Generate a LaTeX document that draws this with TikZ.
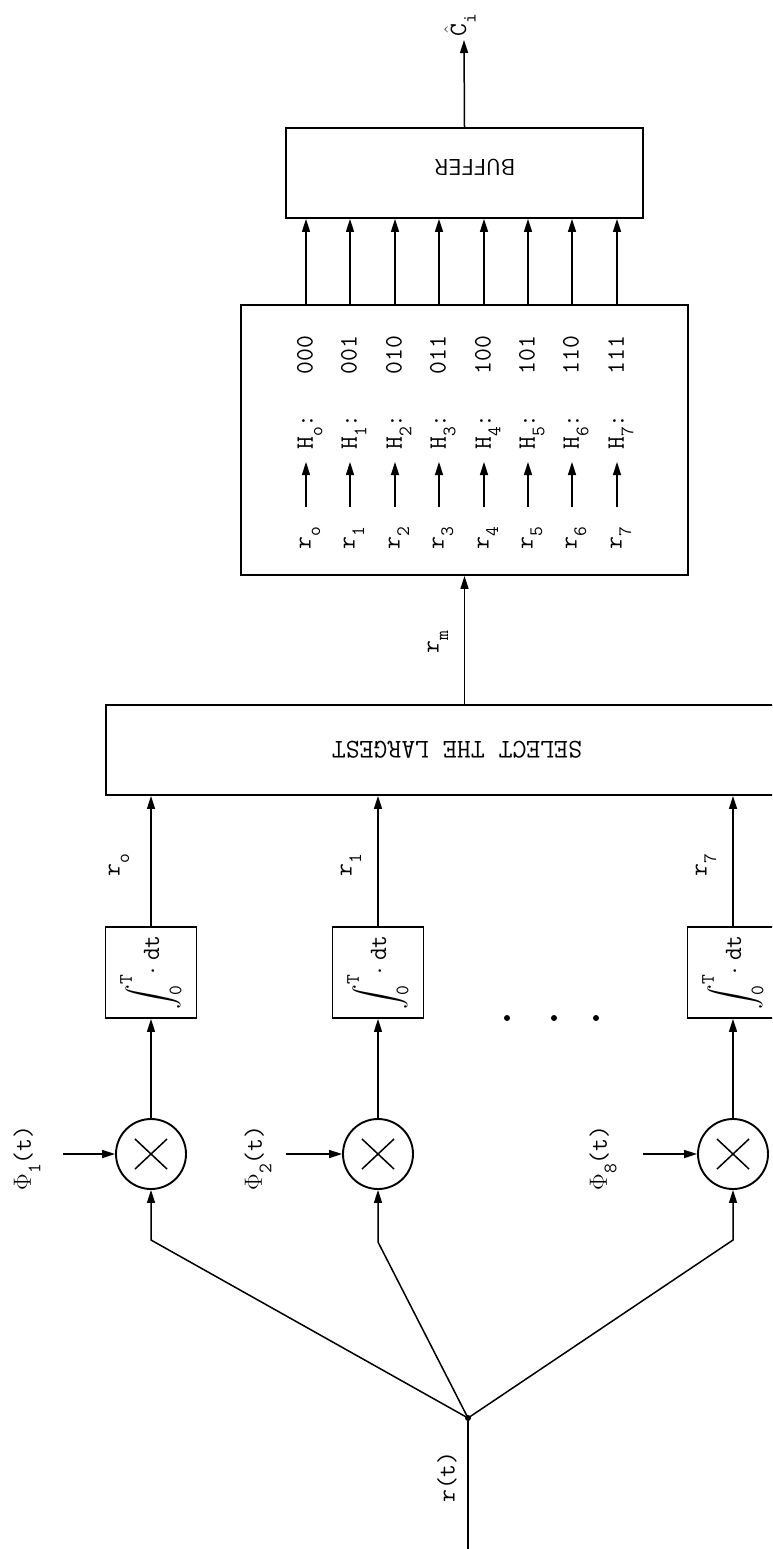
\documentclass[tikz,border=0pt]{standalone}
\usepackage{graphicx}
\usepackage{exscale}
\usetikzlibrary{arrows.meta}
\newcommand\tsub[1]{\raisebox{-0.38em}{\fontsize{19}{19}\selectfont\ttfamily #1}}
\newcommand\intgtext{\rotatebox{90}{$\displaystyle\int_{\mbox{\fontsize{19}{19}\selectfont\ttfamily 0}}^{\mbox{\fontsize{19}{19}\selectfont\ttfamily T}}\!\cdot\;\mathtt{dt}$}}
\begin{document}
\begin{tikzpicture}[x=1pt,y=-1pt,
  ln/.style={line width=1.5pt},
  arr/.style={line width=1.5pt,-{Triangle[length=13pt,width=8pt]}},
  box/.style={draw,line width=1.9pt,inner sep=0pt},
  mult/.style={draw,circle,line width=1.9pt,minimum size=70pt,inner sep=0pt},
  lbl/.style={font=\fontsize{25}{30}\selectfont\ttfamily,inner sep=0pt,rotate=90},
  intg/.style={box,minimum size=91pt,font=\fontsize{24}{28}\selectfont\ttfamily},
  ]
\clip (0,0) rectangle (772,1549);
\fill[white] (0,0) rectangle (772,1549);

% ---------- buffer ----------
\node[box,minimum width=357pt,minimum height=90pt] (buf) at (464.5,173) {};
\node[font=\fontsize{23}{26}\selectfont\sffamily,rotate=180,inner sep=0pt] (buft) at (475,167) {BUFFER};
\coordinate (chat) at (464,40);
\draw[arr] (buf.north) -- (chat);
\node[lbl] (chatl) at (460,25) {$\hat{\mathtt{C}}$\tsub{i}};

% ---------- decoder box ----------
\node[box,minimum width=447pt,minimum height=270pt] (dec) at (464.5,440) {};
\foreach \i/\code/\sub in {0/000/o,1/001/1,2/010/2,3/011/3,4/100/4,5/101/5,6/110/6,7/111/7} {
  \pgfmathsetmacro\cx{round(306+44.4*\i)}
  \coordinate (c\i) at (\cx,440);
  \node[lbl] (r\i) at (\cx+4,538) {r\tsub{\sub}};
  \coordinate (a\i) at (\cx,507);
  \coordinate (b\i) at (\cx,462);
  \draw[arr] (a\i) -- (b\i);
  \node[lbl] (h\i) at (\cx+4,432) {H\tsub{\sub}:};
  \node[lbl] (k\i) at (\cx-1,355) {\code};
  \draw[arr] (c\i |- dec.north) -- (c\i |- buf.south);
}

% ---------- select the largest ----------
\node[box,minimum width=702pt,minimum height=90pt] (sel) at (457,750) {};
\node[font=\fontsize{27}{30}\selectfont\ttfamily,rotate=180,inner sep=0pt] (selt) at (457,750) {SELECT THE LARGEST};
\draw[arr] (dec.south |- sel.north) -- (dec.south);
\node[lbl] (rm) at (438,642) {r\tsub{m}};

% ---------- integrators ----------
\node[intg] (int1) at (151,972.5) {\intgtext};
\node[intg] (int2) at (378,972.5) {\intgtext};
\node[intg] (int3) at (733,972.5) {\intgtext};
\draw[arr] (int1.north) -- (int1.north |- sel.south);
\draw[arr] (int2.north) -- (int2.north |- sel.south);
\draw[arr] (int3.north) -- (int3.north |- sel.south);
\node[lbl] (ro) at (119,865) {r\tsub{o}};
\node[lbl] (r1l) at (351,865) {r\tsub{1}};
\node[lbl] (r7l) at (706,865) {r\tsub{7}};

% dots
\fill (507,1018) circle (3);
\fill (554,1018) circle (3);
\fill (596,1018) circle (3);

% ---------- multipliers ----------
\node[mult] (m1) at (151,1154) {};
\node[mult] (m2) at (378,1154) {};
\node[mult] (m3) at (733,1154) {};
\foreach \m in {m1,m2,m3} {
  \draw[line width=1.5pt] ([shift={(-16,-15)}]\m.center) -- ([shift={(16,15)}]\m.center);
  \draw[line width=1.5pt] ([shift={(-16,15)}]\m.center) -- ([shift={(16,-15)}]\m.center);
}
\draw[arr] (m1.north) -- (int1.south);
\draw[arr] (m2.north) -- (int2.south);
\draw[arr] (m3.north) -- (int3.south);

\coordinate (p1) at (63,1154);
\coordinate (p2) at (286,1154);
\coordinate (p3) at (643,1154);
\draw[arr] (p1) -- (m1.west);
\draw[arr] (p2) -- (m2.west);
\draw[arr] (p3) -- (m3.west);
\node[lbl] (phi1) at (27,1158) {$\Phi$\tsub{1}(t)};
\node[lbl] (phi2) at (258,1158) {$\Phi$\tsub{2}(t)};
\node[lbl] (phi8) at (603,1158) {$\Phi$\tsub{8}(t)};

% ---------- input ----------
\coordinate (in) at (468,1549);
\coordinate (j) at (468,1418);
\coordinate (k1) at (151,1240);
\coordinate (k2) at (378,1242);
\coordinate (k3) at (733,1240);
\draw[ln] (in) -- (j);
\fill (j) circle (3);
\draw[arr] (j) -- (k1) -- (m1.south);
\draw[arr] (j) -- (k2) -- (m2.south);
\draw[arr] (j) -- (k3) -- (m3.south);
\node[lbl] (rt) at (447,1477) {r(t)};
\end{tikzpicture}
\end{document}
